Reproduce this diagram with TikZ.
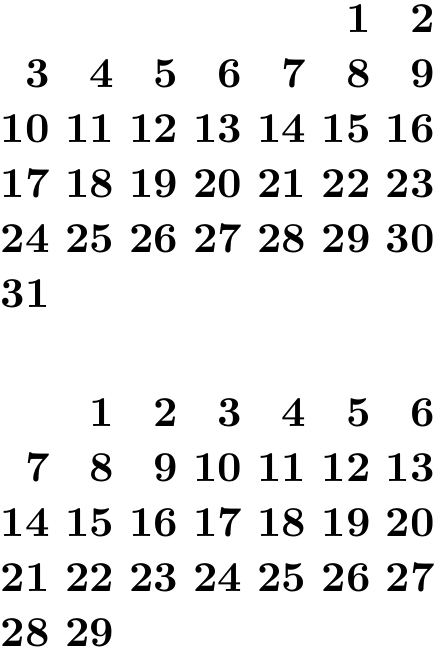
\documentclass[tikz,border=0pt]{standalone}
\begin{document}
\begin{tikzpicture}[x=1pt,y=1pt,
  daynum/.style={anchor=base east,inner sep=0pt,font=\bfseries}]
\def\xs{15.07}
\def\ys{12.92}
\def\febtop{-92.6}
\useasboundingbox (-11.9,7.64) rectangle (91.6,-145.5);
% January 2000 (starts Saturday)
\foreach \d in {1,...,31}{
  \pgfmathtruncatemacro{\idx}{\d+4}
  \pgfmathtruncatemacro{\col}{mod(\idx,7)}
  \pgfmathtruncatemacro{\row}{floor(\idx/7)}
  \node[daynum] (jan\d) at (\col*\xs,-\row*\ys) {\d};
}
% February 2000 (starts Tuesday)
\foreach \d in {1,...,29}{
  \pgfmathtruncatemacro{\idx}{\d}
  \pgfmathtruncatemacro{\col}{mod(\idx,7)}
  \pgfmathtruncatemacro{\row}{floor(\idx/7)}
  \node[daynum] (feb\d) at (\col*\xs,\febtop-\row*\ys) {\d};
}
\end{tikzpicture}
\end{document}
